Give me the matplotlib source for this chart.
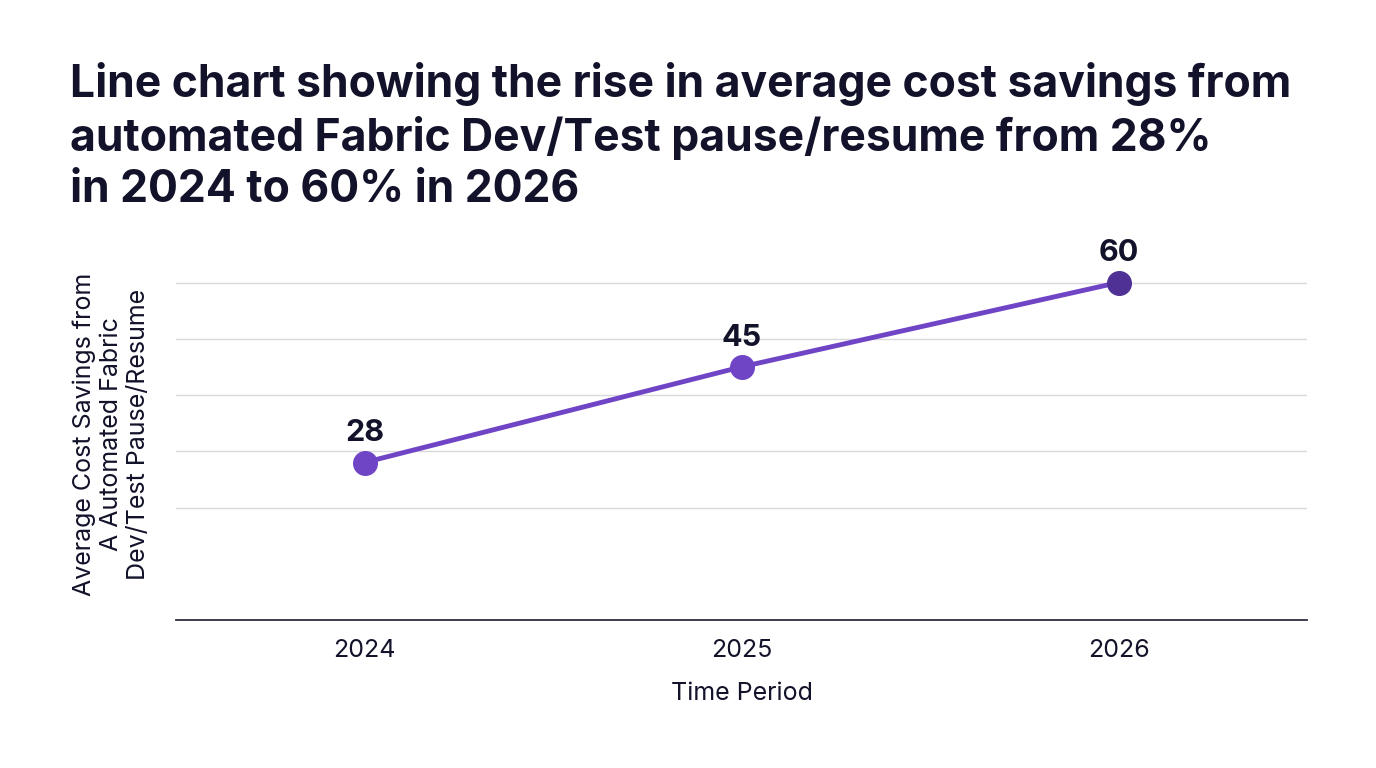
import matplotlib
matplotlib.use("Agg")
import matplotlib.pyplot as plt

# ==================================================
# Data
# ==================================================

years = ["2024", "2025", "2026"]
savings = [28, 45, 60]
grid_levels = [20, 30, 40, 50, 60]

TITLE = ("Line chart showing the rise in average cost savings from\n"
         "automated Fabric Dev/Test pause/resume from 28%\n"
         "in 2024 to 60% in 2026")
YLABEL = "Average Cost Savings from\nA Automated Fabric\nDev/Test Pause/Resume"
XLABEL = "Time Period"

LINE_COLOR = "#6f45c6"
LAST_COLOR = "#4f3196"
TEXT_COLOR = "#12122a"

plt.rcParams["font.family"] = ["Inter", "DejaVu Sans"]

fig = plt.figure(figsize=(13.76, 7.68), dpi=100)
ax = fig.add_axes([176 / 1376, 1 - 620 / 768, 1131 / 1376, 371.25 / 768])

x = list(range(len(years)))
ax.plot(x, savings, "-", color=LINE_COLOR, linewidth=3.5, zorder=3)
marker_colors = [LINE_COLOR] * (len(x) - 1) + [LAST_COLOR]
for xi, yi, c in zip(x, savings, marker_colors):
    ax.plot(xi, yi, "o", color=c, markersize=17, zorder=4)
    ax.annotate(str(yi), (xi, yi), xytext=(0, 11), textcoords="offset points",
                ha="center", va="bottom", fontsize=22, fontweight="bold",
                color=TEXT_COLOR)

for g in grid_levels:
    ax.axhline(g, color="#d9d9dc", linewidth=1.0, zorder=1)

ax.set_xlim(-0.5, len(years) - 0.5)
ax.set_ylim(0, 66)
ax.set_xticks(x)
ax.set_xticklabels(years, fontsize=18, color=TEXT_COLOR)
ax.set_yticks([])
ax.tick_params(axis="x", length=0, pad=14)

for side in ["top", "right", "left"]:
    ax.spines[side].set_visible(False)
ax.spines["bottom"].set_color("#2e2e40")
ax.spines["bottom"].set_linewidth(1.3)

ax.set_xlabel(XLABEL, fontsize=18, color=TEXT_COLOR, labelpad=14)
ax.set_ylabel(YLABEL, fontsize=18, color=TEXT_COLOR, labelpad=19,
              linespacing=1.2)

fig.text(70 / 1376, 1 - 62 / 768, TITLE, ha="left", va="top", fontsize=32,
         fontweight="bold", color=TEXT_COLOR, linespacing=1.28)

fig.savefig("out.png", dpi=100, facecolor="white")
